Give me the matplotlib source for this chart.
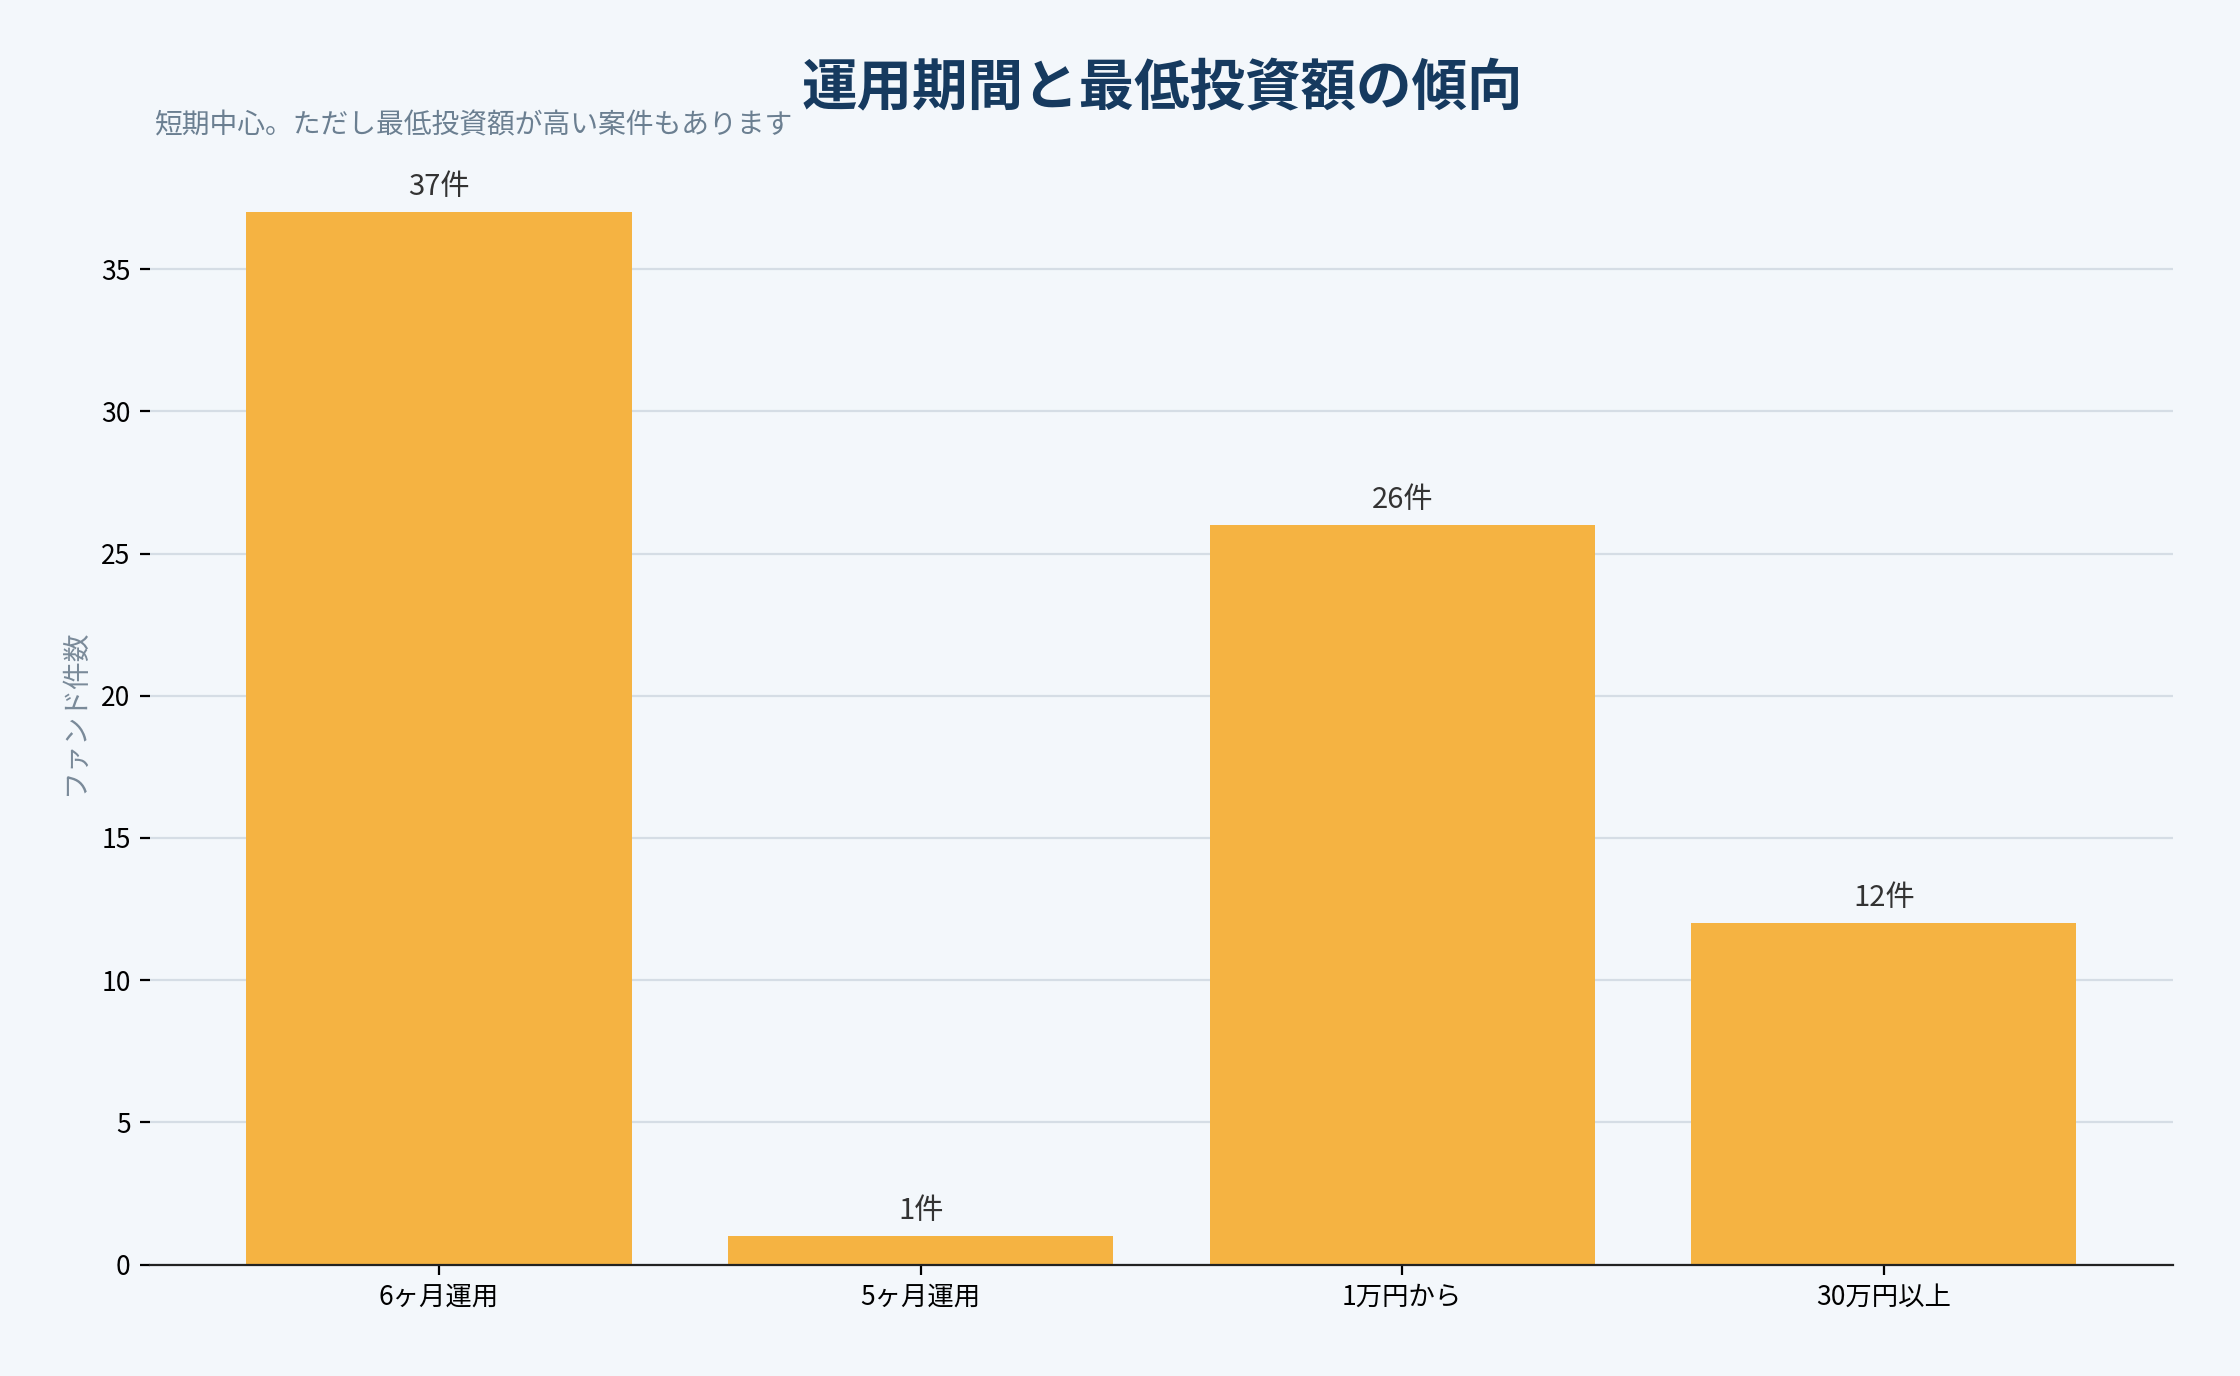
import matplotlib
matplotlib.use("Agg")
import matplotlib.pyplot as plt

plt.rcParams['font.family'] = ['Noto Sans CJK JP', 'DejaVu Sans']

categories = ["6ヶ月運用", "5ヶ月運用", "1万円から", "30万円以上"]
values = [37, 1, 26, 12]
labels = [f"{v}件" for v in values]

bg = "#F3F7FB"
fig = plt.figure(figsize=(11.2, 6.88), dpi=200, facecolor=bg)
ax = fig.add_axes([0.067, 0.081, 0.903, 0.803], facecolor=bg)
x = range(len(categories))
bars = ax.bar(x, values, width=0.8, color="#F5B342", zorder=2)
for b, t in zip(bars, labels):
    ax.text(b.get_x() + b.get_width() / 2, b.get_height() + 0.35, t,
            ha="center", va="bottom", fontsize=10.5, color="#333333")
ax.set_xticks(list(x))
ax.set_xticklabels(categories, fontsize=9.5)
ax.set_ylim(0, 38.85)
ax.set_xlim(-0.6, 3.6)
ax.set_yticks(range(0, 36, 5))
ax.tick_params(axis='y', labelsize=9.5)
ax.yaxis.grid(True, color="#D5DDE5", linewidth=0.8, zorder=0)
for s in ["top", "right", "left"]:
    ax.spines[s].set_visible(False)
ax.spines["bottom"].set_color("#222222")
ax.set_ylabel("ファンド件数", fontsize=10, color="#7A8A99")
fig.text(0.519, 0.935, "運用期間と最低投資額の傾向", ha="center", va="center",
         fontsize=20, fontweight="bold", color="#163A5F")
fig.text(0.069, 0.909, "短期中心。ただし最低投資額が高い案件もあります", ha="left", va="center",
         fontsize=10, color="#6B7F91")
fig.savefig("out.png", dpi=200, facecolor=bg)
